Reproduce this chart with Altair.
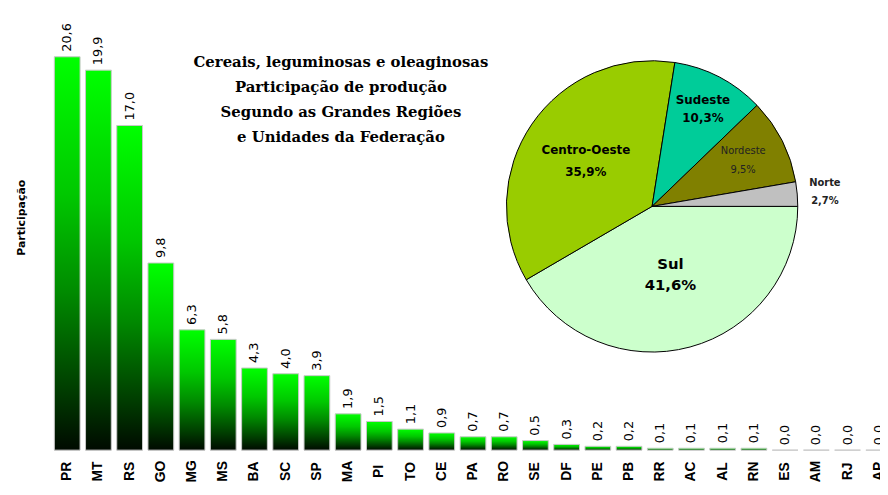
import math
import altair as alt
import pandas as pd

# ---------------- data ----------------
states = ["PR", "MT", "RS", "GO", "MG", "MS", "BA", "SC", "SP", "MA", "PI", "TO", "CE", "PA",
          "RO", "SE", "DF", "PE", "PB", "RR", "AC", "AL", "RN", "ES", "AM", "RJ", "AP"]
state_shares = [20.6, 19.9, 17.0, 9.8, 6.3, 5.8, 4.3, 4.0, 3.9, 1.9, 1.5, 1.1, 0.9, 0.7,
                0.7, 0.5, 0.3, 0.2, 0.2, 0.1, 0.1, 0.1, 0.1, 0.0, 0.0, 0.0, 0.0]

regions = ["Sul", "Centro-Oeste", "Sudeste", "Nordeste", "Norte"]
region_shares = [41.6, 35.9, 10.3, 9.5, 2.7]
region_colors = ["#ccffcc", "#99cc00", "#00cc99", "#808000", "#c0c0c0"]

title_lines = ["Cereais, leguminosas e oleaginosas",
               "Participação de produção",
               "Segundo as Grandes Regiões",
               "e Unidades da Federação"]
y_title = "Participação"


def fmt(v):
    return f"{v:.1f}".replace(".", ",")


bars_df = pd.DataFrame({"uf": states, "share": state_shares,
                        "label": [fmt(v) for v in state_shares]})
pie_df = pd.DataFrame({"region": regions, "share": region_shares,
                       "order": list(range(len(regions))),
                       "label": [f"{r}\n{fmt(v)}%" for r, v in zip(regions, region_shares)]})
title_df = pd.DataFrame({"text": ["\n".join(title_lines)]})

# ---------------- styles ----------------
W, H = 836, 444
SANS = "Liberation Sans"
WIDE = "DejaVu Sans"
PIE_X, PIE_Y, PIE_R = 606, 198, 147

gradient = alt.Gradient(
    gradient="linear",
    stops=[alt.GradientStop(color="#00ff00", offset=0),
           alt.GradientStop(color="#00c800", offset=0.35),
           alt.GradientStop(color="#008a00", offset=0.6),
           alt.GradientStop(color="#003c00", offset=0.85),
           alt.GradientStop(color="#000a00", offset=1)],
    x1=0, x2=0, y1=0, y2=1,
)

base = alt.Chart(bars_df).encode(
    x=alt.X("uf:N", sort=states,
            scale=alt.Scale(range=[0, 850.5], paddingInner=0.175, paddingOuter=0.0875),
            axis=alt.Axis(title=None, labelAngle=270, labelAlign="center",
                          labelBaseline="middle", labelPadding=21, ticks=False,
                          tickSize=0, domain=False, grid=False, labelFont=SANS,
                          labelFontSize=14, labelFontWeight="bold", labelColor="black")),
    y=alt.Y("share:Q", scale=alt.Scale(domain=[0, 23.04], nice=False),
            axis=alt.Axis(title=y_title, labels=False, ticks=False, domain=False,
                          grid=False, titleX=-30, titleY=209, titleAngle=270,
                          titleAlign="center", titleBaseline="middle", titleFont=WIDE,
                          titleFontSize=11, titleFontWeight="bold", titleColor="black")),
)

bars = base.mark_bar(color=gradient, stroke="#c8c8c8", strokeWidth=1)
values = base.mark_text(angle=270, align="left", baseline="middle", dx=5,
                        font=WIDE, fontSize=13, color="black").encode(text="label:N")

theta_scale = alt.Scale(domain=[0, 100], range=[math.pi / 2, math.pi / 2 + 2 * math.pi])

arcs = alt.Chart(pie_df).mark_arc(radius=PIE_R, stroke="black", strokeWidth=1).encode(
    theta=alt.Theta("share:Q", stack=True, scale=theta_scale),
    color=alt.Color("region:N", scale=alt.Scale(domain=regions, range=region_colors),
                    legend=None),
    order=alt.Order("order:Q"),
    x=alt.value(PIE_X), y=alt.value(PIE_Y),
)

label_style = {
    "Sul": dict(r=71, size=15, color="black", weight="bold", lh=21),
    "Centro-Oeste": dict(r=81, size=12, color="black", weight="bold", lh=22),
    "Sudeste": dict(r=111, size=12, color="black", weight="bold", lh=18),
    "Nordeste": dict(r=103, size=10, color="#222222", weight="normal", lh=19),
    "Norte": dict(r=175, size=10, color="#222222", weight="bold", lh=18),
}

label_layers = []
for reg in regions:
    s = label_style[reg]
    label_layers.append(
        alt.Chart(pie_df)
        .transform_window(cum="sum(share)", sort=[alt.SortField("order")])
        .transform_calculate(mid="datum.cum - datum.share / 2")
        .transform_filter(alt.datum.region == reg)
        .mark_text(radius=s["r"], fontSize=s["size"], color=s["color"],
                   fontWeight=s["weight"], lineHeight=s["lh"], lineBreak="\n",
                   align="center", baseline="middle", font=WIDE, dy=-s["lh"] / 2)
        .encode(theta=alt.Theta("mid:Q", scale=theta_scale), text="label:N",
                x=alt.value(PIE_X), y=alt.value(PIE_Y))
    )

title_text = alt.Chart(title_df).mark_text(
    font="DejaVu Serif", fontSize=15, fontWeight="bold", lineBreak="\n",
    lineHeight=25.3, align="center", baseline="middle", color="black",
).encode(text="text:N", x=alt.value(292), y=alt.value(52))

chart = alt.layer(bars, values, arcs, *label_layers, title_text).properties(
    width=W, height=H,
    autosize=alt.AutoSizeParams(type="none"),
    padding={"left": 44, "top": 0, "right": 0, "bottom": 34},
    background="white",
).configure_view(stroke=None)

chart.save("out.html", embed_options={"renderer": "svg", "actions": False})
